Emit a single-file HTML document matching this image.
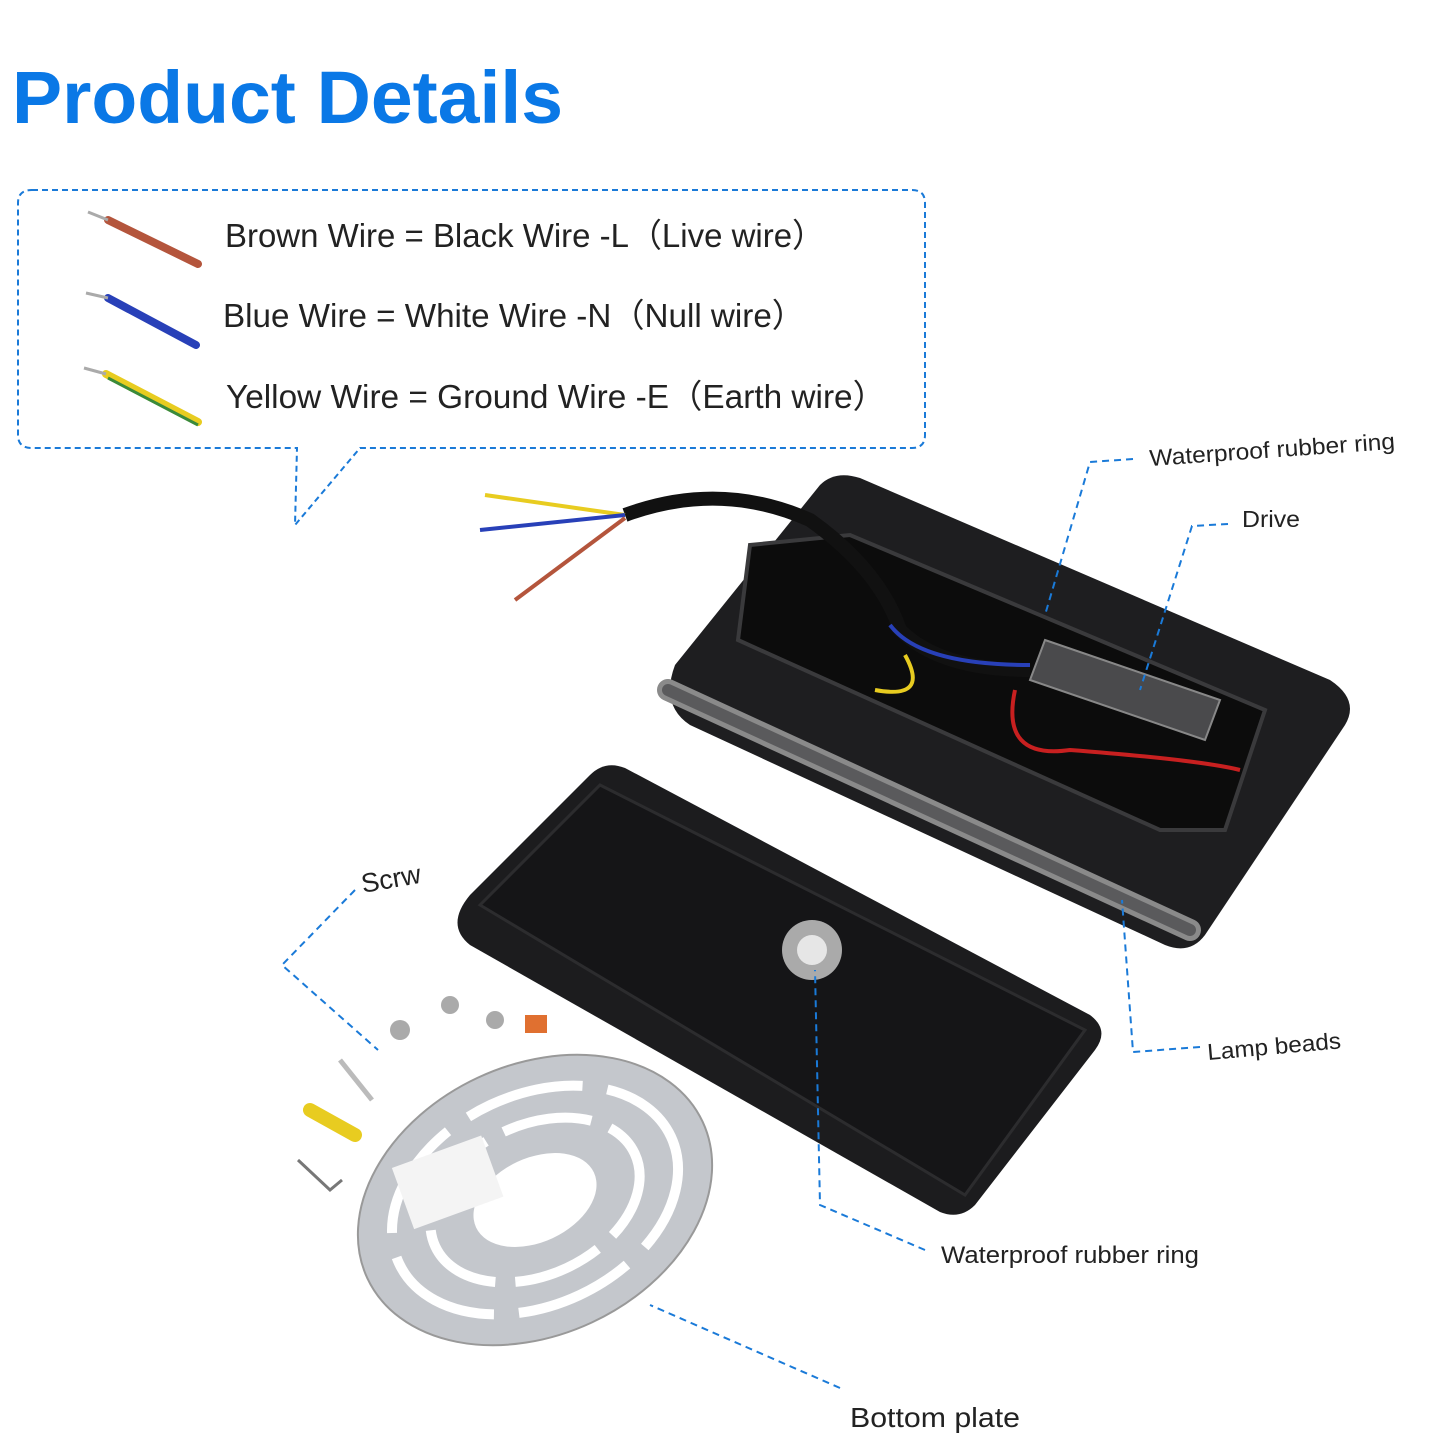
<!DOCTYPE html>
<html><head><meta charset="utf-8"><style>
html,body{margin:0;padding:0;background:#fff;}
svg{display:block;}
text{font-family:"Liberation Sans",sans-serif;}
</style></head><body>
<svg width="1445" height="1445" viewBox="0 0 1445 1445" xmlns="http://www.w3.org/2000/svg">
<rect width="1445" height="1445" fill="#fff"/>
<text x="12" y="123" font-size="74" font-weight="bold" fill="#0a78e6" textLength="551" lengthAdjust="spacingAndGlyphs">Product Details</text>

<path d="M32,190 H912 Q925,190 925,203 V435 Q925,448 912,448 H360 L295,525 L297,448 H32 Q18,448 18,435 V203 Q18,190 32,190 Z" fill="none" stroke="#1a7ad8" stroke-width="2" stroke-dasharray="6,4"/>

<line x1="108" y1="220" x2="198" y2="264" stroke="#b4553c" stroke-width="8" stroke-linecap="round"/>
<line x1="88" y1="212" x2="108" y2="220" stroke="#aaa" stroke-width="3"/>
<line x1="108" y1="298" x2="196" y2="345" stroke="#2840b8" stroke-width="8" stroke-linecap="round"/>
<line x1="86" y1="293" x2="108" y2="298" stroke="#aaa" stroke-width="3"/>
<line x1="106" y1="374" x2="198" y2="422" stroke="#e8cc20" stroke-width="8" stroke-linecap="round"/>
<line x1="108" y1="378" x2="198" y2="425" stroke="#3a8a3a" stroke-width="3"/>
<line x1="84" y1="368" x2="106" y2="374" stroke="#aaa" stroke-width="3"/>

<text x="225" y="247" font-size="33" fill="#222" textLength="600" lengthAdjust="spacingAndGlyphs">Brown Wire = Black Wire -L（Live wire）</text>
<text x="223" y="327" font-size="33" fill="#222" textLength="582" lengthAdjust="spacingAndGlyphs">Blue Wire = White Wire -N（Null  wire）</text>
<text x="226" y="408" font-size="33" fill="#222" textLength="660" lengthAdjust="spacingAndGlyphs">Yellow Wire = Ground Wire -E（Earth wire）</text>

<path d="M675,665 L820,485 Q835,470 860,478 L1330,680 Q1360,700 1345,725 L1205,935 Q1190,955 1165,945 L690,725 Q660,705 675,665 Z" fill="#1e1e20"/>
<path d="M668,690 L1190,930" stroke="#8a8a8a" stroke-width="22" stroke-linecap="round"/>
<path d="M668,690 L1190,930" stroke="#5a5a5c" stroke-width="12" stroke-linecap="round"/>
<path d="M750,545 L850,535 L1265,710 L1225,830 L1160,830 L738,640 Z" fill="#0c0c0c" stroke="#3a3a3c" stroke-width="4"/>
<path d="M1045,640 L1220,700 L1205,740 L1030,680 Z" fill="#4a4a4c" stroke="#888" stroke-width="2"/>
<path d="M625,515 Q720,480 810,520 Q880,570 900,630 Q940,670 1030,670" fill="none" stroke="#111" stroke-width="14"/>
<path d="M890,625 Q920,665 1030,665" fill="none" stroke="#2840b8" stroke-width="4"/>
<path d="M905,655 Q930,700 875,690" fill="none" stroke="#e8cc20" stroke-width="4"/>
<path d="M1015,690 Q1000,760 1070,750 Q1200,760 1240,770" fill="none" stroke="#c82020" stroke-width="4"/>
<path d="M625,515 L485,495" stroke="#e8cc20" stroke-width="4"/>
<path d="M625,515 L480,530" stroke="#2840b8" stroke-width="4"/>
<path d="M625,518 L515,600" stroke="#b4553c" stroke-width="4"/>

<path d="M470,895 L590,775 Q605,760 625,768 L1090,1015 Q1110,1030 1095,1050 L975,1205 Q960,1220 940,1212 L470,945 Q445,925 470,895 Z" fill="#1c1c1e"/>
<path d="M480,905 L600,785 L1085,1030 L965,1195 Z" fill="#151517" stroke="#2c2c2e" stroke-width="3"/>
<circle cx="812" cy="950" r="30" fill="#aaa"/>
<circle cx="812" cy="950" r="15" fill="#e6e6e6"/>

<g transform="rotate(-25 535 1200)">
<ellipse cx="535" cy="1200" rx="185" ry="135" fill="#c4c7cc" stroke="#999" stroke-width="2"/>
<ellipse cx="535" cy="1200" rx="150" ry="105" fill="none" stroke="#fff" stroke-width="10" stroke-dasharray="120,25"/>
<ellipse cx="535" cy="1200" rx="110" ry="75" fill="none" stroke="#fff" stroke-width="10" stroke-dasharray="90,20"/>
<ellipse cx="535" cy="1200" rx="65" ry="42" fill="#fff"/>
</g>
<rect x="400" y="1150" width="95" height="65" fill="#f4f4f4" transform="rotate(-20 447 1182)"/>

<circle cx="400" cy="1030" r="10" fill="#aaa"/><circle cx="450" cy="1005" r="9" fill="#aaa"/>
<circle cx="495" cy="1020" r="9" fill="#aaa"/>
<rect x="525" y="1015" width="22" height="18" fill="#e07030"/>
<path d="M310,1110 L355,1135" stroke="#e8cc20" stroke-width="14" stroke-linecap="round"/>
<path d="M340,1060 L372,1100" stroke="#bbb" stroke-width="5"/>
<path d="M298,1160 L330,1190 L342,1180" stroke="#777" stroke-width="3" fill="none"/>

<g fill="none" stroke="#1a7ad8" stroke-width="2" stroke-dasharray="7,5">
<path d="M1133,459 L1090,462 L1045,615"/>
<path d="M1228,524 L1192,526 L1140,690"/>
<path d="M1200,1047 L1133,1052 L1122,900"/>
<path d="M925,1250 L820,1205 L815,970"/>
<path d="M840,1388 L650,1305"/>
<path d="M355,890 L282,965 L378,1050"/>
</g>
<text x="1150" y="466" font-size="23" fill="#222" transform="rotate(-4 1150 466)" textLength="246" lengthAdjust="spacingAndGlyphs">Waterproof rubber ring</text>
<text x="1242" y="527" font-size="23" fill="#222" textLength="58" lengthAdjust="spacingAndGlyphs">Drive</text>
<text x="1208" y="1060" font-size="23" fill="#222" transform="rotate(-5 1208 1060)" textLength="134" lengthAdjust="spacingAndGlyphs">Lamp beads</text>
<text x="941" y="1263" font-size="24" fill="#222" textLength="258" lengthAdjust="spacingAndGlyphs">Waterproof rubber ring</text>
<text x="850" y="1427" font-size="28" fill="#222" textLength="170" lengthAdjust="spacingAndGlyphs">Bottom plate</text>
<text x="363" y="893" font-size="27" fill="#222" transform="rotate(-10 363 893)">Scrw</text>
</svg>
</body></html>
